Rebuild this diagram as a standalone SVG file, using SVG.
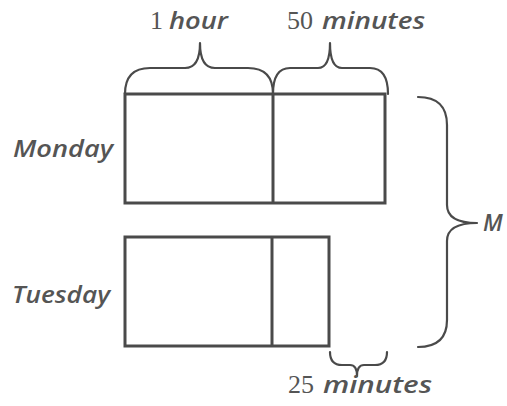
<svg xmlns="http://www.w3.org/2000/svg" width="507" height="406" viewBox="0 0 507 406">
<style>
.box{fill:none;stroke:#4a4a4a;stroke-width:3}
.brace{fill:none;stroke:#4a4a4a;stroke-width:2.2;stroke-linecap:round;stroke-linejoin:round}
.lbl{font-family:"Open Sans","Liberation Sans",sans-serif;font-style:italic;font-weight:600;fill:#555}
.meas{font-family:"Open Sans","Liberation Sans",sans-serif;font-style:italic;font-weight:600;fill:#555;font-size:23px}
.num{font-family:"Liberation Serif",serif;font-style:normal;font-weight:normal;font-size:26px}
</style>
<rect width="507" height="406" fill="#fff"/>
<g id="monday">
<rect class="box" x="125" y="94" width="260" height="109"/>
<line class="box" x1="273" y1="94" x2="273" y2="203"/>
<text class="lbl" x="13" y="157" font-size="23" textLength="100" lengthAdjust="spacingAndGlyphs">Monday</text>
</g>
<g id="tuesday">
<rect class="box" x="125" y="237" width="204" height="109"/>
<line class="box" x1="272" y1="237" x2="272" y2="346"/>
<text class="lbl" x="12" y="303" font-size="23" textLength="98" lengthAdjust="spacingAndGlyphs">Tuesday</text>
</g>
<g id="connectors">
<path class="brace" d="M125,94 Q125,68 150,68 L185,68 Q200,68 200,43 Q200,68 215,68 L248,68 Q273,68 273,94"/>
<path class="brace" d="M273,94 Q273,68 290,68 L318,68 Q330,68 330,43 Q330,68 342,68 L370,68 Q388,68 388,94"/>
<path class="brace" d="M418,97 Q447,97 447,125 L447,205 Q447,223 477,223 Q447,223 447,241 L447,320 Q447,347 418,347"/>
<path class="brace" d="M330,352 Q330,365 342,365 L350,365 Q357,365 357,376 Q357,365 364,365 L375,365 Q387,365 387,352"/>
</g>
<g id="label-1hour">
<text class="num" x="150" y="29" fill="#555">1</text>
<text class="meas" x="169" y="29" textLength="59" lengthAdjust="spacingAndGlyphs">hour</text>
</g>
<g id="label-50min">
<text class="num" x="287" y="29" fill="#555">50</text>
<text class="meas" x="322" y="29" textLength="103" lengthAdjust="spacingAndGlyphs">minutes</text>
</g>
<g id="label-25min">
<text class="num" x="288" y="393" fill="#555">25</text>
<text class="meas" x="323" y="393" textLength="109" lengthAdjust="spacingAndGlyphs">minutes</text>
</g>
<g id="label-M">
<text class="meas" x="483" y="231">M</text>
</g>
</svg>
